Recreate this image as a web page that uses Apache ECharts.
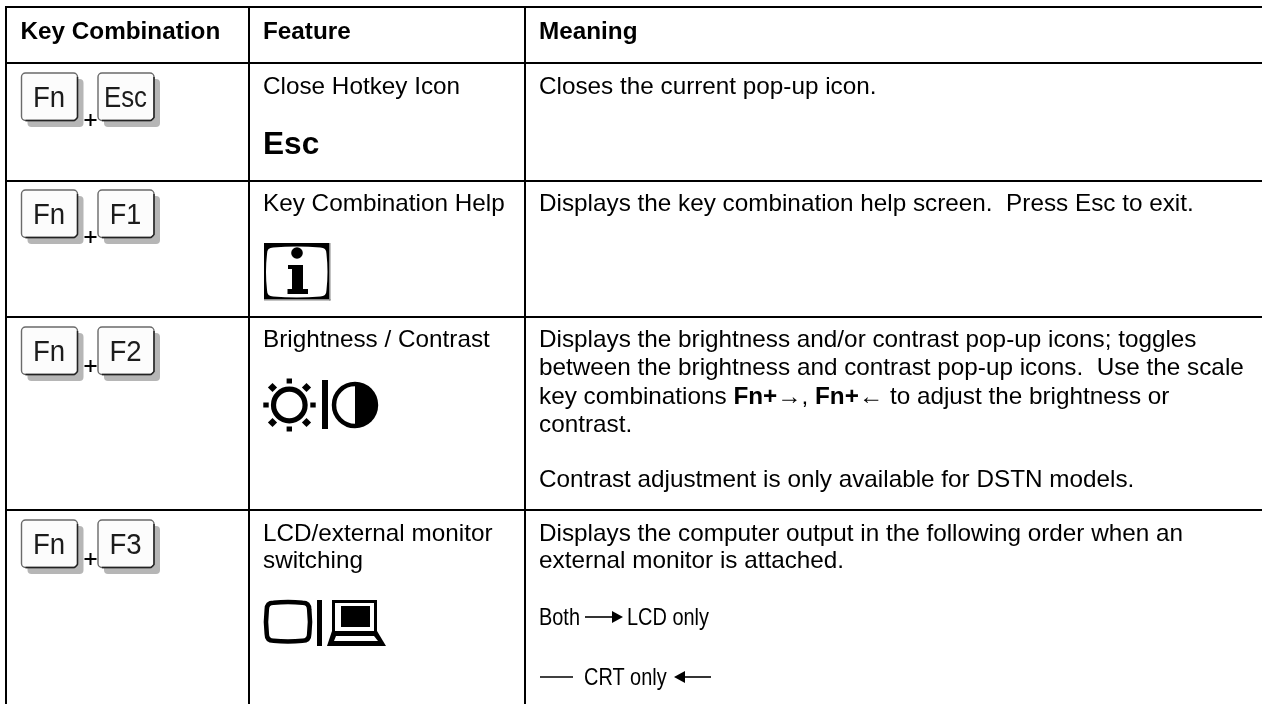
<!DOCTYPE html>
<html><head><meta charset="utf-8">
<script src="https://cdn.jsdelivr.net/npm/echarts@6/dist/echarts.min.js"></script>
<style>html,body{margin:0;padding:0;background:#fff}#c{width:1262px;height:704px}</style>
</head><body><div id="c"></div>
<script>
// ---- table content ----
const headers = ['Key Combination', 'Feature', 'Meaning'];
const modifierKey = 'Fn';
const functionKeys = ['Esc', 'F1', 'F2', 'F3'];
const featureNames = [['Close Hotkey Icon'], ['Key Combination Help'], ['Brightness / Contrast'], ['LCD/external monitor', 'switching']];
const escGlyph = 'Esc';
const meanings = [
  [[['Closes the current pop-up icon.', 0]]],
  [[['Displays the key combination help screen.  Press Esc to exit.', 0]]],
  [[['Displays the brightness and/or contrast pop-up icons; toggles', 0]],
   [['between the brightness and contrast pop-up icons.  Use the scale', 0]],
   [['key combinations ', 0], ['Fn+', 1], ['\u2192', 0], [', ', 0], ['Fn+', 1], ['\u2190', 0], [' to adjust the brightness or', 0]],
   [['contrast.', 0]],
   [['Contrast adjustment is only available for DSTN models.', 0]]],
  [[['Displays the computer output in the following order when an', 0]],
   [['external monitor is attached.', 0]]]
];
const cycleLabels = ['Both', 'LCD only', 'CRT only'];

// ---- layout (pixels of the 1262x704 page, mapped through hidden value axes) ----
const FONT = '"Liberation Sans", Arial, sans-serif';
const BODY_SX = 1.012;
const colLines = [[5, 7], [248, 250], [524, 526]];
const rowLines = [[6, 8], [62, 64], [180, 182], [316, 318], [509, 511]];
const colText = [20.5, 263, 539];
const headerBase = 40;
const keyTops = [73, 190, 327, 520];
const plusY = [120, 237, 366, 559];
const featBase = [[95], [212], [348], [542, 569]];
const meanBase = [[95], [212], [348, 376, 405, 433, 488], [542, 569]];

const chart = echarts.init(document.getElementById('c'), null, {renderer: 'canvas'});
const measure = document.createElement('canvas').getContext('2d');

// y is the text baseline; zrender places the text from its top edge
function text(p, x, y, str, o) {
  o = o || {};
  const size = o.size || 24;
  const c = p(x, y - size * 0.8);
  return {type: 'text', x: c[0], y: c[1], scaleX: o.sx || BODY_SX, silent: true,
    style: {text: str, fontFamily: FONT, fontSize: size, fontWeight: o.weight || 'normal',
      fill: o.fill || '#000', textAlign: o.align || 'left', textBaseline: 'top'}};
}
function box(p, x0, y0, x1, y1, fill, r) {
  const a = p(x0, y0), b = p(x1, y1);
  return {type: 'rect', silent: true, shape: {x: a[0], y: a[1], width: b[0] - a[0], height: b[1] - a[1], r: r || 0}, style: {fill: fill, stroke: null}};
}
function poly(p, pts, fill) {
  return {type: 'polygon', silent: true, shape: {points: pts.map(q => p(q[0], q[1]))}, style: {fill: fill || '#000'}};
}
// bowed "CRT screen" outline used by the info and monitor icons
function barrel(p, x0, y0, x1, y1, r, b, style) {
  const a = p(x0, y0), e = p(x1, y1);
  const w = e[0] - a[0], h = e[1] - a[1];
  const d = `M${r} ${b}Q${w / 2} 0 ${w - r} ${b}Q${w - b} ${b} ${w - b} ${r}Q${w} ${h / 2} ${w - b} ${h - r}` +
    `Q${w - b} ${h - b} ${w - r} ${h - b}Q${w / 2} ${h} ${r} ${h - b}Q${b} ${h - b} ${b} ${h - r}Q0 ${h / 2} ${b} ${r}Q${b} ${b} ${r} ${b}Z`;
  return {type: 'path', silent: true, shape: {pathData: d, x: a[0], y: a[1], width: w, height: h, layout: 'cover'}, style: style};
}
function keycap(p, x, top, label, sx) {
  const w = 56, h = 47.5;
  const a = p(x, top);
  return [
    box(p, x + 6, top + 6, x + w + 6, top + h + 6.5, '#b6b6b6', 4),
    {type: 'rect', silent: true, shape: {x: a[0], y: a[1], width: w, height: h, r: 4}, style: {fill: '#fcfcfc', stroke: '#6a6a6a', lineWidth: 1.4}},
    {type: 'polyline', silent: true, shape: {points: [[a[0] + w, a[1] + 4], [a[0] + w, a[1] + h - 3], [a[0] + w - 3, a[1] + h], [a[0] + 4, a[1] + h]]}, style: {fill: null, stroke: '#222', lineWidth: 1.4}},
    text(p, x + w / 2 - 0.5, top + 35, label, {size: 30, sx: sx, fill: '#1c1c1c', align: 'center'})
  ];
}

function renderGrid(params, api) {
  const p = (x, y) => api.coord([x, y]);
  const kids = [];
  rowLines.forEach(l => kids.push(box(p, 5, l[0], 1262, l[1], '#000')));
  colLines.forEach(l => kids.push(box(p, l[0], 6, l[1], 704, '#000')));
  headers.forEach((h, i) => kids.push(text(p, colText[i], headerBase, h, {weight: 'bold'})));
  return {type: 'group', children: kids};
}

function renderRow(params, api) {
  const r = api.value(0);
  const p = (x, y) => api.coord([x, y]);
  let kids = [];
  const sxs = [0.86, 0.9, 0.92, 0.92];
  kids = kids.concat(keycap(p, 21.5, keyTops[r], modifierKey, 0.92));
  kids = kids.concat(keycap(p, 98, keyTops[r], functionKeys[r], sxs[r]));
  kids.push(box(p, 84.5, plusY[r] - 1, 96.5, plusY[r] + 1, '#000'));
  kids.push(box(p, 89.5, plusY[r] - 6, 91.5, plusY[r] + 6, '#000'));
  featureNames[r].forEach((s, i) => kids.push(text(p, colText[1], featBase[r][i], s)));
  meanings[r].forEach((runs, i) => {
    let x = colText[2];
    runs.forEach(run => {
      const w = run[1] ? 'bold' : 'normal';
      kids.push(text(p, x, meanBase[r][i], run[0], {weight: w}));
      measure.font = w + ' 24px ' + FONT;
      x += measure.measureText(run[0]).width * BODY_SX;
    });
  });
  kids = kids.concat(iconFor(r, p));
  return {type: 'group', children: kids};
}

function iconFor(r, p) {
  if (r === 0) return [text(p, 263, 155, escGlyph, {size: 31, weight: 'bold', sx: 1.02})];
  if (r === 1) return infoIcon(p);
  if (r === 2) return sunIcon(p);
  return monitorIcon(p);
}
function infoIcon(p) {
  const c = p(297, 253);
  return [
    box(p, 264, 243, 330, 300, '#000'),
    box(p, 329, 243, 330.5, 300.5, '#888'),
    box(p, 264, 299, 330.5, 300.5, '#888'),
    barrel(p, 266, 246.5, 327.5, 297.5, 8, 2, {fill: '#fff'}),
    {type: 'circle', silent: true, shape: {cx: c[0], cy: c[1], r: 5.8}, style: {fill: '#000'}},
    box(p, 292, 265, 303, 290, '#000'),
    box(p, 288, 265, 293, 269, '#000'),
    box(p, 287.5, 289, 308, 294, '#000')
  ];
}
function sunIcon(p) {
  const c = p(289.3, 405), h = p(355, 405);
  const kids = [{type: 'circle', silent: true, shape: {cx: c[0], cy: c[1], r: 15.8}, style: {fill: null, stroke: '#000', lineWidth: 5.2}}];
  [[289.3, 381], [289.3, 429], [266, 405], [313, 405]].forEach(q => kids.push(box(p, q[0] - 2.7, q[1] - 2.5, q[0] + 2.7, q[1] + 2.5, '#000')));
  [[272.5, 387.5], [306.5, 387.5], [272.5, 422.5], [306.5, 422.5]].forEach(q =>
    kids.push(poly(p, [[q[0], q[1] - 4.6], [q[0] + 4.6, q[1]], [q[0], q[1] + 4.6], [q[0] - 4.6, q[1]]])));
  kids.push(box(p, 322, 380, 328, 429, '#000'));
  kids.push({type: 'arc', silent: true, shape: {cx: h[0], cy: h[1], r: 21, startAngle: Math.PI / 2, endAngle: Math.PI * 3 / 2, clockwise: true}, style: {fill: null, stroke: '#000', lineWidth: 4.5}});
  kids.push({type: 'sector', silent: true, shape: {cx: h[0], cy: h[1], r0: 0, r: 23.2, startAngle: -Math.PI / 2, endAngle: Math.PI / 2, clockwise: true}, style: {fill: '#000'}});
  return kids;
}
function monitorIcon(p) {
  return [
    barrel(p, 266, 602, 310, 641.5, 8, 1.5, {fill: '#fff', stroke: '#000', lineWidth: 4.6}),
    box(p, 317, 600, 322, 646, '#000'),
    box(p, 332, 600, 377, 603, '#000'),
    box(p, 332, 600, 335, 633, '#000'),
    box(p, 374, 600, 377, 633, '#000'),
    box(p, 341, 606, 370, 627, '#000'),
    poly(p, [[332, 631], [377, 631], [386, 646], [327, 646]]),
    poly(p, [[336, 636], [374, 636], [378, 641], [334, 641]], '#fff')
  ];
}
function renderCycle(params, api) {
  const p = (x, y) => api.coord([x, y]);
  const cond = 0.83;
  const y1 = 617, y2 = 677;
  return {type: 'group', children: [
    text(p, 539, y1 + 8.5, cycleLabels[0], {sx: cond}),
    box(p, 585, y1 - 0.8, 614, y1 + 0.8, '#000'),
    poly(p, [[612, y1 - 6], [623, y1], [612, y1 + 6]]),
    text(p, 627, y1 + 8.5, cycleLabels[1], {sx: cond}),
    box(p, 540, y2 - 0.8, 573, y2 + 0.8, '#000'),
    text(p, 584, y2 + 8.5, cycleLabels[2], {sx: cond}),
    poly(p, [[674, y2], [685, y2 - 6], [685, y2 + 6]]),
    box(p, 683, y2 - 0.8, 711, y2 + 0.8, '#000')
  ]};
}

const hiddenAxis = (max, inverse) => ({type: 'value', min: 0, max: max, inverse: inverse, show: false, splitLine: {show: false}});
chart.setOption({
  animation: false,
  backgroundColor: '#fff',
  tooltip: {show: false},
  grid: {left: 0, right: 0, top: 0, bottom: 0},
  xAxis: hiddenAxis(1262, false),
  yAxis: hiddenAxis(704, true),
  series: [
    {type: 'custom', coordinateSystem: 'cartesian2d', clip: false, silent: true, renderItem: renderGrid, data: [[0, 0]]},
    {type: 'custom', coordinateSystem: 'cartesian2d', clip: false, silent: true, renderItem: renderRow, data: functionKeys.map((k, i) => [i, i])},
    {type: 'custom', coordinateSystem: 'cartesian2d', clip: false, silent: true, renderItem: renderCycle, data: [[0, 0]]}
  ]
});
</script></body></html>
